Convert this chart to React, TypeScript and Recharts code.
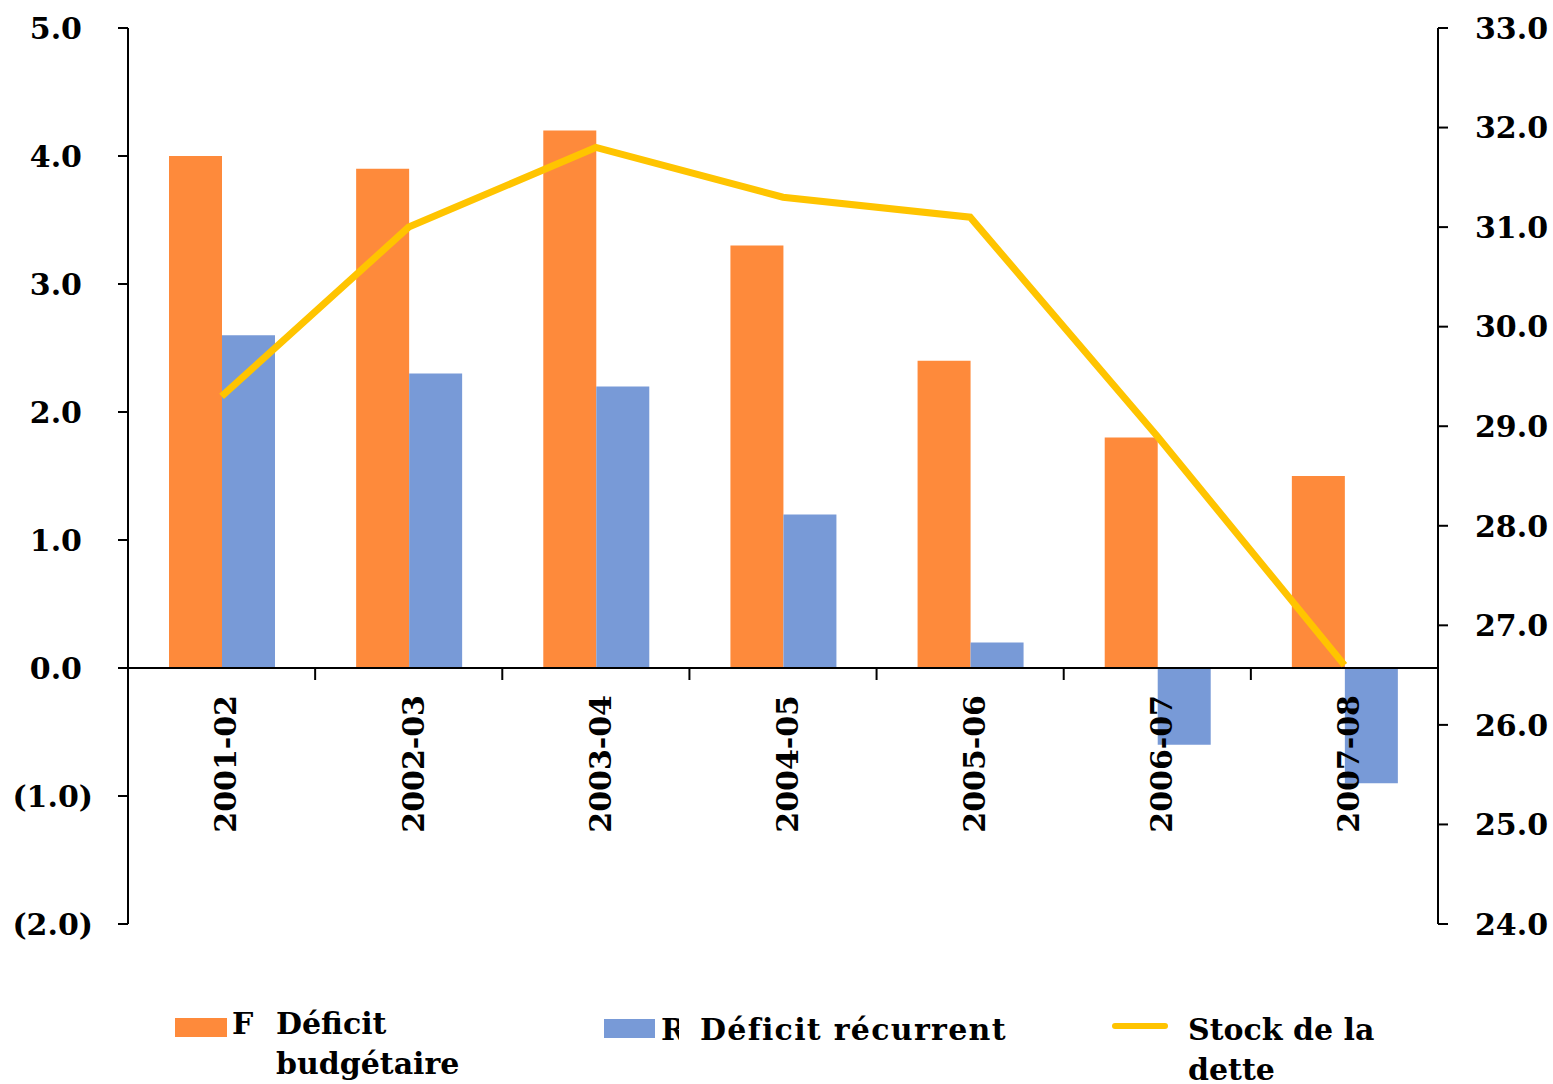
import { ComposedChart, Bar, Line, XAxis, YAxis, ReferenceLine } from "recharts";

const years = ["2001-02", "2002-03", "2003-04", "2004-05", "2005-06", "2006-07", "2007-08"];
const deficitBudgetaire = [4.0, 3.9, 4.2, 3.3, 2.4, 1.8, 1.5];
const deficitRecurrent = [2.6, 2.3, 2.2, 1.2, 0.2, -0.6, -0.9];
const stockDette = [29.3, 31.0, 31.8, 31.3, 31.1, 28.9, 26.6];
const leftTicks = [-2, -1, 0, 1, 2, 3, 4, 5];
const rightTicks = [24, 25, 26, 27, 28, 29, 30, 31, 32, 33];

const W = 1553;
const H = 1084;
const TOP = 28;
const BOTTOM = 160;
const X_AXIS_H = 30;
const LEFT_W = 128;
const RIGHT_W = 115;
const PLOT_H = H - TOP - BOTTOM;
const PLOT_W = W - LEFT_W - RIGHT_W;
const BAND = PLOT_W / years.length;
const LEFT_MIN = leftTicks[0];
const LEFT_MAX = leftTicks[leftTicks.length - 1];
const ZERO_Y = TOP + (PLOT_H * (LEFT_MAX - 0)) / (LEFT_MAX - LEFT_MIN);

const ORANGE = "#FE8A3B";
const BLUE = "#789AD7";
const YELLOW = "#FFC400";
const FONT = "'DejaVu Serif', serif";

const data = years.map((y, i) => ({
  year: y,
  budget: deficitBudgetaire[i],
  recurrent: deficitRecurrent[i],
  stock: stockDette[i],
}));

const textStyle = { fontFamily: FONT, fontWeight: 700, fontSize: 30, fill: "#000" };

function LeftTick({ x, y, payload }: any) {
  const v = payload.value as number;
  const label = v < 0 ? `(${Math.abs(v).toFixed(1)})` : v.toFixed(1);
  return (
    <text x={v < 0 ? x : x - 11} y={y} dy="0.36em" textAnchor="end" {...textStyle}>
      {label}
    </text>
  );
}

function RightTick({ x, y, payload }: any) {
  return (
    <text x={x} y={y} dy="0.36em" textAnchor="start" {...textStyle}>
      {(payload.value as number).toFixed(1)}
    </text>
  );
}

function XTick({ x, payload }: any) {
  return (
    <g>
      <line x1={x + BAND / 2} x2={x + BAND / 2} y1={ZERO_Y} y2={ZERO_Y + 12} stroke="#000" strokeWidth={2} />
      <text
        transform={`translate(${x + 4},${ZERO_Y + 27}) rotate(-90)`}
        textAnchor="end"
        dy="0.36em"
        {...textStyle}
      >
        {payload.value}
      </text>
    </g>
  );
}

const legendText = {
  position: "absolute" as const,
  fontFamily: FONT,
  fontWeight: 700,
  fontSize: 30,
  lineHeight: "40px",
  color: "#000",
  whiteSpace: "nowrap" as const,
};

export default function App() {
  return (
    <div style={{ position: "absolute", left: 0, top: 0, width: W, height: H, background: "#fff" }}>
      <ComposedChart
        width={W}
        height={H}
        data={data}
        margin={{ top: TOP, bottom: BOTTOM - X_AXIS_H, left: 0, right: 0 }}
        barGap={0}
        barSize={53}
      >
        <XAxis
          dataKey="year"
          xAxisId="x"
          axisLine={false}
          tickLine={false}
          tick={<XTick />}
          interval={0}
          height={X_AXIS_H}
        />
        <YAxis
          yAxisId="left"
          width={LEFT_W}
          domain={[LEFT_MIN, LEFT_MAX]}
          ticks={leftTicks}
          axisLine={{ stroke: "#000", strokeWidth: 2 }}
          tickLine={{ stroke: "#000", strokeWidth: 2 }}
          tickSize={10}
          tickMargin={25}
          tick={<LeftTick />}
        />
        <YAxis
          yAxisId="right"
          orientation="right"
          width={RIGHT_W}
          domain={[24, 33]}
          ticks={rightTicks}
          axisLine={{ stroke: "#000", strokeWidth: 2 }}
          tickLine={{ stroke: "#000", strokeWidth: 2 }}
          tickSize={10}
          tickMargin={27}
          tick={<RightTick />}
        />
        <Bar xAxisId="x" yAxisId="left" dataKey="budget" fill={ORANGE} isAnimationActive={false} />
        <Bar xAxisId="x" yAxisId="left" dataKey="recurrent" fill={BLUE} isAnimationActive={false} />
        <ReferenceLine xAxisId="x" yAxisId="left" y={0} stroke="#000" strokeWidth={2} />
        <Line
          xAxisId="x"
          yAxisId="right"
          type="linear"
          dataKey="stock"
          stroke={YELLOW}
          strokeWidth={7}
          dot={false}
          isAnimationActive={false}
        />
      </ComposedChart>

      <div style={{ position: "absolute", left: 175, top: 1018, width: 52, height: 19, background: ORANGE }} />
      <div style={{ ...legendText, left: 232, top: 1004 }}>F</div>
      <div style={{ ...legendText, left: 276, top: 1004 }}>
        Déficit
        <br />
        budgétaire
      </div>

      <div style={{ position: "absolute", left: 604, top: 1019, width: 51, height: 19, background: BLUE }} />
      <div style={{ ...legendText, left: 661, top: 1010, width: 18, overflow: "hidden" }}>R</div>
      <div style={{ ...legendText, left: 700, top: 1010, letterSpacing: 1.3 }}>Déficit récurrent</div>

      <div style={{ position: "absolute", left: 1112, top: 1023, width: 56, height: 6, borderRadius: 3, background: YELLOW }} />
      <div style={{ ...legendText, left: 1188, top: 1010 }}>
        Stock de la
        <br />
        dette
      </div>
    </div>
  );
}
